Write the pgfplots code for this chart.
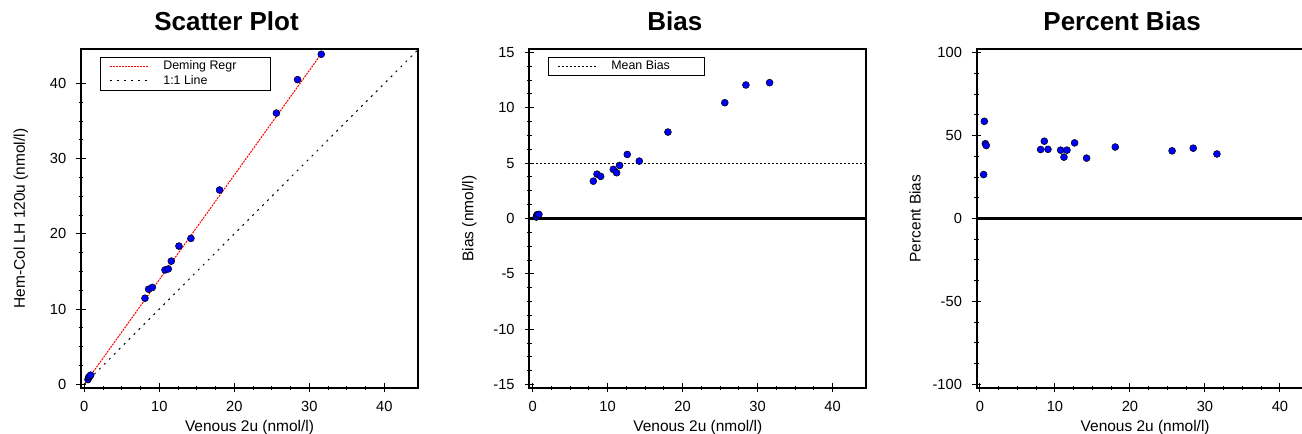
\documentclass[border=0pt]{standalone}
\usepackage{fontspec}
\setmainfont{Liberation Sans}
\usepackage{pgfplots}
\usepackage{pgfplotstable}
\pgfplotsset{compat=1.18}

% Venous 2u vs Hem-Col LH 120u
\pgfplotstableread{
x y
0.49 0.62
0.58 0.92
0.71 1.03
0.84 1.21
8.09 11.44
8.58 12.64
9.07 12.88
10.76 15.20
11.20 15.34
11.60 16.38
12.62 18.38
14.22 19.40
18.04 25.84
25.62 36.07
28.44 40.52
31.60 43.90
}\scatterdata

% bias (nmol/l)
\pgfplotstableread{
x y
0.49 0.13
0.58 0.34
0.71 0.32
0.84 0.37
8.09 3.37
8.58 4.00
9.07 3.80
10.76 4.43
11.20 4.13
11.60 4.79
12.62 5.78
14.22 5.18
18.04 7.80
25.62 10.45
28.44 12.05
31.60 12.26
}\biasdata

% percent bias
\pgfplotstableread{
x y
0.49 26.5
0.58 58.6
0.71 45.1
0.84 44.0
8.09 41.6
8.58 46.6
9.07 41.7
10.76 41.2
11.20 37.0
11.60 41.2
12.62 45.6
14.22 36.4
18.04 43.1
25.62 40.8
28.44 42.4
31.60 38.9
}\pctdata

\pgfplotsset{
  panel/.style={
    scale only axis, width=252.75pt, height=254.25pt, anchor=south west,
    axis line style={line width=1.6pt},
    tick style={black, line width=0.75pt},
    tick align=center, major tick length=6.75pt, minor tick length=3.5pt,
    tick pos=left,
    xmin=-0.44, xmax=44.5,
    xtick={0,10,20,30,40}, xticklabels={0,10,20,30,40}, minor x tick num=3,
    minor y tick num=3,
    ticklabel style={font=\fontsize{11}{13}\selectfont, inner sep=0pt},
    xticklabel style={yshift=-6.5pt},
    yticklabel style={xshift=-7.5pt},
    label style={font=\fontsize{11.6}{14}\selectfont},
    xlabel style={at={([yshift=-32.6pt]axis description cs:0.5,0)}, anchor=base},
    ylabel style={at={([xshift=-42pt]axis description cs:0,0.5)}, anchor=base},
    title style={at={(0.5,1)}, anchor=base, yshift=7.5pt, xshift=-17.25pt,
      font=\fontsize{19.5}{23}\selectfont\bfseries},
    xlabel={Venous 2u (nmol/l)},
    legend cell align=left,
    legend image code/.code={\draw[##1] (0pt,0pt) -- (28.5pt,0pt);},
    legend style={anchor=north west, draw=black, line width=0.75pt, fill=white,
      inner xsep=6.5pt, inner ysep=2.5pt, row sep=1.7pt,
      font=\fontsize{9.3}{11}\selectfont,
      nodes={inner sep=0pt, text height=7pt, text depth=2pt}},
  },
  pts/.style={only marks, mark=*, mark size=2.6pt,
    mark options={fill=blue, draw=black, line width=0.4pt}},
}

\begin{document}
\begin{tikzpicture}

\begin{axis}[panel, at={(60.75pt,34.5pt)},
  title={Scatter Plot},
  ymin=-0.5, ymax=44.6,
  ytick={0,10,20,30,40}, yticklabels={0,10,20,30,40},
  ylabel={Hem-Col LH 120u (nmol/l)},
  legend style={at={(axis description cs:0.057,0.977)}},
]
\addplot[red, line width=0.75pt, dash pattern=on 1.5pt off 0.75pt]
  coordinates {(0,0) (31.7,44.1)};
\addlegendentry{\makebox[85pt][l]{\hspace*{11.25pt}Deming Regr}}
\addplot[black, line width=0.75pt, dash pattern=on 1.5pt off 3.75pt]
  coordinates {(0,0) (44.5,44.5)};
\addlegendentry{\makebox[85pt][l]{\hspace*{11.25pt}1:1 Line}}
\addplot[pts, forget plot] table {\scatterdata};
\end{axis}

\begin{axis}[panel, at={(397pt,34.5pt)},
  title={Bias},
  ymin=-15.3, ymax=15.3,
  ytick={-15,-10,-5,0,5,10,15}, yticklabels={-15,-10,-5,0,5,10,15},
  ylabel={Bias (nmol/l)},
  legend style={at={(axis description cs:0.056,0.977)}},
]
\addplot[black, line width=0.75pt, dash pattern=on 1.5pt off 1.5pt]
  coordinates {(0.45,4.92) (44.5,4.92)};
\addlegendentry{\makebox[74.7pt][l]{\hspace*{11.25pt}Mean Bias}}
\addplot[black, line width=1.6pt, forget plot] coordinates {(-0.44,0) (44.5,0)};
\addplot[pts, forget plot] table {\biasdata};
\end{axis}

\begin{axis}[panel, at={(732.5pt,34.5pt)},
  title={Percent Bias},
  ymin=-102.2, ymax=102.2,
  ytick={-100,-50,0,50,100}, yticklabels={-100,-50,0,50,100},
  ylabel={Percent Bias},
]
\addplot[black, line width=1.6pt] coordinates {(-0.44,0) (44.5,0)};
\addplot[pts] table {\pctdata};
\end{axis}

\pgfresetboundingbox
\path[use as bounding box] (0,0) rectangle (976.5pt,325.5pt);
\end{tikzpicture}
\end{document}
